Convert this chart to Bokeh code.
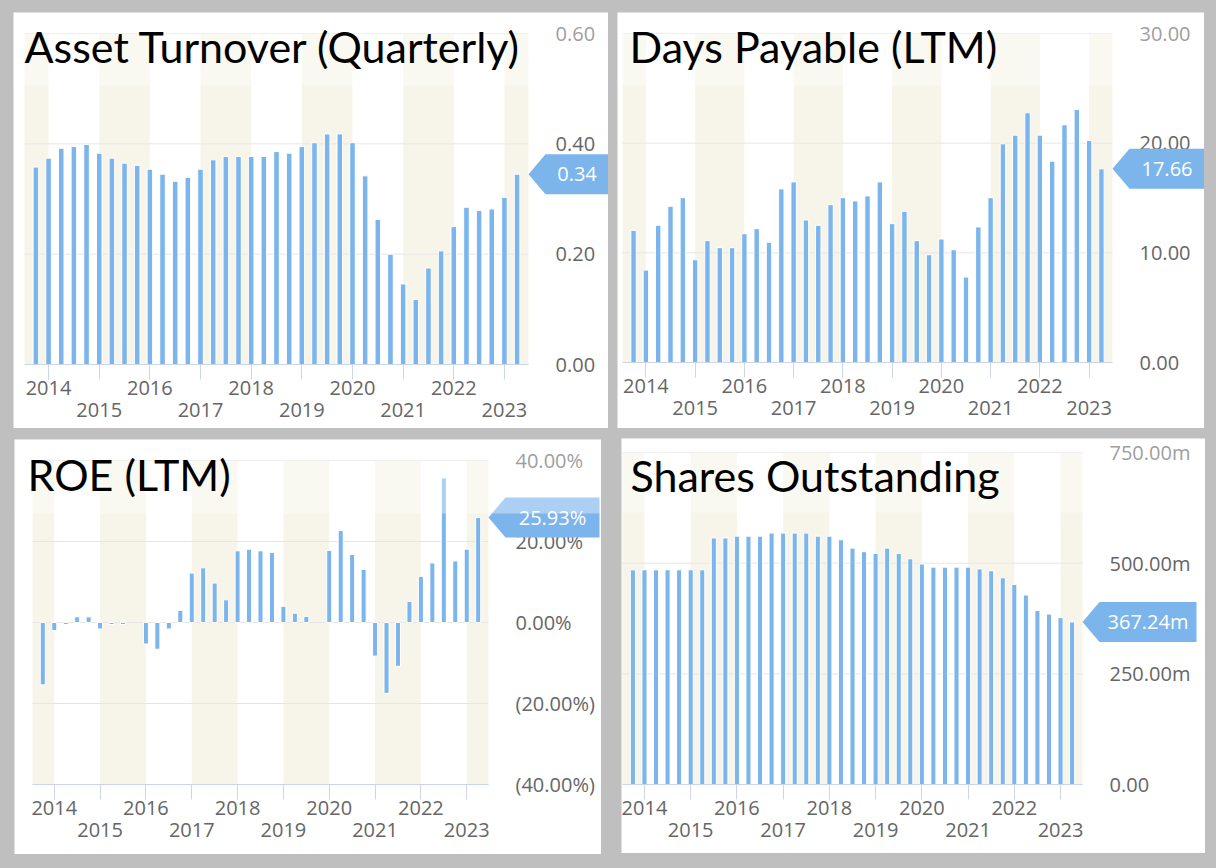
from bokeh.plotting import figure
from bokeh.models import (Range1d, LinearAxis, FixedTicker, PolyAnnotation,
                          BoxAnnotation, Label)
from bokeh.layouts import column, row
from bokeh.embed import file_html
from bokeh.resources import INLINE

# ---------------- data ----------------
quarters = [f"{y}-{m:02d}" for y in range(2013, 2024) for m in (3, 6, 9, 12)][2:-3]  # 2013-09 .. 2023-03
years = list(range(2014, 2024))

asset_turnover = [0.358, 0.374, 0.392, 0.395, 0.399, 0.383, 0.374, 0.365, 0.361, 0.354,
                  0.345, 0.332, 0.339, 0.354, 0.371, 0.377, 0.377, 0.377, 0.377, 0.386,
                  0.383, 0.395, 0.402, 0.418, 0.418, 0.402, 0.342, 0.263, 0.200, 0.146,
                  0.118, 0.175, 0.206, 0.250, 0.285, 0.279, 0.282, 0.303, 0.345]
days_payable = [12.05, 8.43, 12.51, 14.25, 15.03, 9.37, 11.11, 10.47, 10.47, 11.74,
                12.20, 10.96, 15.83, 16.47, 13.00, 12.51, 14.39, 15.03, 14.73, 15.19,
                16.47, 12.66, 13.79, 11.11, 9.83, 11.26, 10.28, 7.79, 12.36, 15.03,
                19.94, 20.73, 22.77, 20.73, 18.36, 21.67, 23.07, 20.24, 17.66]
roe = [-15.4, -2.0, -0.5, 1.4, 1.4, -1.6, -0.5, -0.5, float("nan"), -5.3,
       -6.6, -1.6, 3.0, 12.2, 13.5, 9.75, 5.6, 17.7, 18.1, 17.7,
       17.3, 4.0, 2.3, 1.5, float("nan"), 17.8, 22.7, 16.8, 13.1, -8.3,
       -17.5, -10.8, 5.2, 11.4, 14.7, 35.7, 15.2, 18.1, 25.93]
shares = [485, 485, 485, 485, 485, 485, 485, 557, 557, 561,
          561, 561, 568, 568, 568, 568, 561, 561, 553, 534,
          526, 522, 534, 522, 510, 498, 491, 491, 491, 491,
          487, 483, 467, 452, 428, 393, 385, 377, 367.24]

titles = ["Asset Turnover (Quarterly)", "Days Payable (LTM)", "ROE (LTM)", "Shares Outstanding"]
latest_labels = ["0.34", "17.66", "25.93%", "367.24m"]

at_ticks = [0.0, 0.2, 0.4, 0.6]
at_tick_labels = ["0.00", "0.20", "0.40", "0.60"]
dp_ticks = [0, 10, 20, 30]
dp_tick_labels = ["0.00", "10.00", "20.00", "30.00"]
roe_ticks = [-40, -20, 0, 20, 40]
roe_tick_labels = ["(40.00%)", "(20.00%)", "0.00%", "20.00%", "40.00%"]
sh_ticks = [0, 250, 500, 750]
sh_tick_labels = ["0.00", "250.00m", "500.00m", "750.00m"]

# ---------------- styling / layout ----------------
BAR = "#7cb5ec"
BAND = "#f7f5e9"
GRID = "#e6e6e6"
AXIS = "#ccd6eb"
LABEL = "#666666"
TICK_FONT = "Open Sans"
TITLE_FONT = "Lato"

qx = [int(q[:4]) + int(q[5:]) / 12.0 for q in quarters]
X0, X1 = qx[0] - 0.225, qx[-1] + 0.225


def make_panel(title, vals, yr, ticks, tick_labels, latest, geo):
    w, h, l, r, t, b = geo["size"]
    y0, y1 = yr
    fw, fh = w - l - r, h - t - b
    xpp = (X1 - X0) / fw
    ypp = (y1 - y0) / fh
    xs, xe = X0 - l * xpp, X1 + r * xpp
    ys, ye = y0 - b * ypp, y1 + t * ypp

    def X(px):  # panel pixel -> data
        return xs + px * xpp

    def Y(py):
        return ye - py * ypp

    p = figure(width=w, height=h, output_backend="svg", toolbar_location=None, tools="",
               x_range=Range1d(xs, xe), y_range=Range1d(ys, ye), min_border=0,
               x_axis_location="below", y_axis_location="right")
    p.outline_line_color = None
    p.background_fill_color = "white"
    p.border_fill_color = "white"
    p.xgrid.visible = False
    p.ygrid.visible = False

    # alternating year bands
    band_left = [max(y, X0) for y in range(years[0] - 1, years[-1] + 1, 2)]
    band_right = [min(y + 1, X1) for y in range(years[0] - 1, years[-1] + 1, 2)]
    p.quad(left=band_left, right=band_right, bottom=y0, top=y1,
           fill_color=BAND, line_color=None, level="image")

    # horizontal grid lines at the value ticks
    p.segment(x0=X0, x1=X1, y0=ticks, y1=ticks, line_color=GRID, line_width=1,
              level="underlay")

    # bars
    p.vbar(x=qx, top=vals, bottom=0, width=0.11, fill_color=BAR,
           line_color="white", line_width=1)

    # y axis (right side of the chart area)
    ya = p.yaxis[0]
    ya.fixed_location = X1
    ya.ticker = FixedTicker(ticks=ticks, minor_ticks=[])
    ya.major_label_overrides = dict(zip(ticks, tick_labels))
    ya.axis_line_color = None
    ya.major_tick_line_color = None
    ya.minor_tick_line_color = None
    ya.major_tick_out = 0
    ya.major_tick_in = 0
    ya.minor_tick_out = 0
    ya.major_label_standoff = 27
    ya.major_label_text_font = TICK_FONT
    ya.major_label_text_font_size = "20px"
    ya.major_label_text_color = LABEL

    # x axis: ticks each year, even-year labels on first row
    xa = p.xaxis[0]
    xa.fixed_location = y0
    xa.bounds = (X0, X1)
    xa.ticker = FixedTicker(ticks=years, minor_ticks=[])
    xa.major_label_overrides = {y: (str(y) if y % 2 == 0 else "") for y in years}
    xa.axis_line_color = AXIS
    xa.major_tick_line_color = AXIS
    xa.minor_tick_line_color = None
    xa.major_tick_out = 15
    xa.major_tick_in = 0
    xa.minor_tick_out = 0
    xa.major_label_standoff = 1
    xa.major_label_text_font = TICK_FONT
    xa.major_label_text_font_size = "20px"
    xa.major_label_text_color = LABEL

    # second row: odd-year labels
    odd = [y for y in years if y % 2]
    xb = LinearAxis(fixed_location=y0, bounds=(X0, X1),
                    ticker=FixedTicker(ticks=odd, minor_ticks=[]),
                    major_label_overrides={y: str(y) for y in odd},
                    axis_line_color=None, major_tick_line_color=None,
                    minor_tick_line_color=None, major_tick_out=0, major_tick_in=0,
                    minor_tick_out=0, major_label_standoff=38,
                    major_label_text_font=TICK_FONT, major_label_text_font_size="20px",
                    major_label_text_color=LABEL)
    p.add_layout(xb, "below")

    # latest-value flag
    v = vals[-1]
    bw = geo["flag_w"]
    hh = 20 * ypp
    fx = l + fw  # pixel x of chart right edge
    flag = PolyAnnotation(xs=[X1, X(fx + 17), X(fx + 17 + bw), X(fx + 17 + bw), X(fx + 17)],
                          ys=[v, v + hh, v + hh, v - hh, v - hh],
                          fill_color=BAR, fill_alpha=1.0, line_color=None)
    p.add_layout(flag)

    # translucent title strip
    over = BoxAnnotation(left=xs, right=xe, top=ye, bottom=Y(geo["strip_h"]),
                         fill_color="white", fill_alpha=0.37, line_color=None)
    p.add_layout(over)

    p.add_layout(Label(x=X(fx + 17 + bw / 2), y=v, text=latest, text_align="center",
                       text_baseline="middle", text_color="white",
                       text_font=TICK_FONT, text_font_size="20px"))

    p.add_layout(Label(x=X(geo["title_x"]), y=Y(geo["title_base"]), text=title,
                       text_font=TITLE_FONT, text_font_size="43px",
                       text_color="black", text_baseline="alphabetic", text_align="left"))
    p.margin = geo["margin"]
    return p


geos = [
    dict(size=(595, 416, 11, 80, 21, 64), flag_w=63, strip_h=73, title_x=11, title_base=34.3, margin=(12, 0, 0, 13)),
    dict(size=(587, 416, 5, 92, 21, 66), flag_w=75, strip_h=73, title_x=12, title_base=34.3, margin=(12, 0, 0, 9)),
    dict(size=(587, 415, 18, 113, 21, 70), flag_w=94, strip_h=74, title_x=13, title_base=34.7, margin=(11, 0, 0, 14)),
    dict(size=(584, 415, 1, 123, 14, 69), flag_w=97, strip_h=74, title_x=9, title_base=36.7, margin=(10, 0, 0, 20)),
]

p1 = make_panel(titles[0], asset_turnover, (0, 0.6), at_ticks, at_tick_labels, latest_labels[0], geos[0])
p2 = make_panel(titles[1], days_payable, (0, 30), dp_ticks, dp_tick_labels, latest_labels[1], geos[1])
p3 = make_panel(titles[2], roe, (-40, 40), roe_ticks, roe_tick_labels, latest_labels[2], geos[2])
p4 = make_panel(titles[3], shares, (0, 750), sh_ticks, sh_tick_labels, latest_labels[3], geos[3])

p = column(row(p1, p2), row(p3, p4), styles={"background-color": "#bfbfbf"})

html = file_html(p, INLINE, title="Financial charts")
html = html.replace("<head>", "<head><style>html, body {background-color: #bfbfbf;}</style>", 1)
open("out.html", "w").write(html)
